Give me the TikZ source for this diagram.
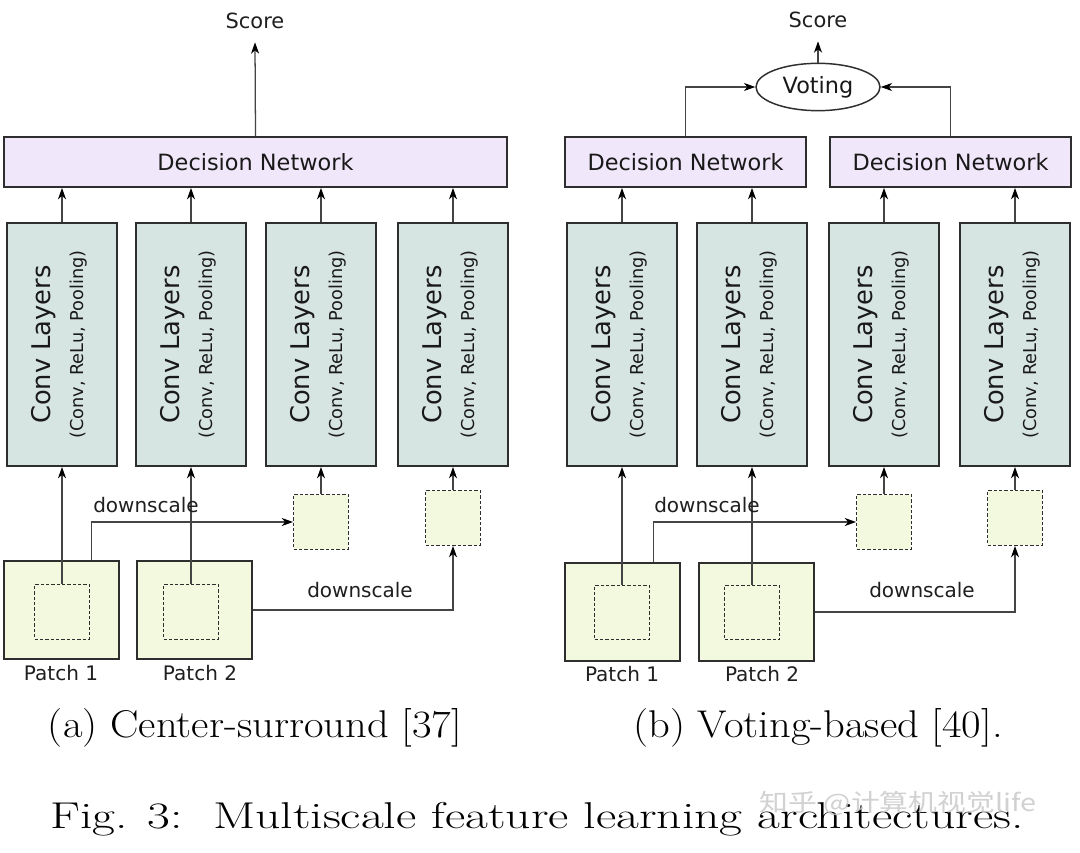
\documentclass[tikz,border=0pt]{standalone}
\usepackage{fontspec}
\newfontfamily\dv{DejaVu Sans}
\newfontfamily\cjk{Noto Sans CJK SC}
\usetikzlibrary{arrows.meta,shapes.geometric}
\definecolor{dnfill}{HTML}{F1E7FA}
\definecolor{convfill}{HTML}{D7E5E2}
\definecolor{patchfill}{HTML}{F2F9DE}
\definecolor{edgec}{HTML}{2E2E2E}
\definecolor{linec}{HTML}{444444}
\begin{document}
\begin{tikzpicture}[x=0.75pt,y=-0.75pt,
  dnbox/.style={draw=edgec, line width=1.4pt, fill=dnfill, inner sep=0pt, minimum height=37.5pt,
     font=\dv\fontsize{16.8}{20}\selectfont, text=black!90},
  convbox/.style={draw=edgec, line width=1.4pt, fill=convfill, inner sep=0pt, minimum width=82.5pt, minimum height=182.25pt},
  convtext/.style={rotate=90, align=center, inner sep=0pt, font=\dv\fontsize{19.3}{24}\selectfont, text=black!90},
  patchbox/.style={draw=edgec, line width=1.4pt, fill=patchfill, inner sep=0pt, minimum width=86.25pt, minimum height=73.5pt},
  innerbox/.style={draw=edgec, line width=0.9pt, dash pattern=on 2.5pt off 1.5pt, inner sep=0pt, minimum size=41pt},
  smallbox/.style={draw=edgec, line width=0.9pt, dash pattern=on 2.5pt off 1.5pt, fill=patchfill, inner sep=0pt, minimum size=41pt},
  lbl/.style={inner sep=0pt, font=\dv\fontsize{15}{18}\selectfont, text=black!88},
  arr/.style={draw=linec, line width=0.95pt, -{Stealth[length=8.5pt,width=6pt,inset=2.5pt,color=black]}},
  capt/.style={inner sep=0pt, anchor=base, font=\fontsize{29}{34}\selectfont, xscale=1.1},
]
\useasboundingbox[fill=white] (0,0) rectangle (1080,852);

% ---------- Left panel ----------
\node[dnbox, minimum width=377.25pt] (dnL) at (255.5,162) {Decision Network};
\node[lbl, font=\dv\fontsize{15.7}{18}\selectfont, anchor=base] (scoreL) at (255,29) {Score};
\draw[arr] (dnL.north) -- ([yshift=-10pt]scoreL.base);

\foreach \i/\x in {1/62,2/191,3/321,4/453}{
  \node[convbox] (cL\i) at (\x,344.5) {};
  \node[convtext] (tL\i) at (\x-3,344.5) {Conv Layers\\[1pt]{\fontsize{13.3}{16}\selectfont (Conv, ReLu, Pooling)}};
  \draw[arr] (cL\i.north) -- (dnL.south -| cL\i.north);
}

\node[patchbox] (pL1) at (61.5,610) {};
\node[patchbox] (pL2) at (194.5,610) {};
\node[innerbox] (iL1) at (62,612) {};
\node[innerbox] (iL2) at (191,612) {};
\node[smallbox] (sL3) at (321,522) {};
\node[smallbox] (sL4) at (453,518) {};
\node[lbl, anchor=north] (plL1) at (61,665) {Patch 1};
\node[lbl, anchor=north] (plL2) at (200,665) {Patch 2};

\draw[arr] (iL1.north) -- (cL1.south);
\draw[arr] (iL2.north) -- (cL2.south);
\draw[arr] (sL3.north) -- (cL3.south);
\draw[arr] (sL4.north) -- (cL4.south);
\draw[arr] ([xshift=22.5pt]pL1.north) |- (sL3.west);
\draw[arr] (pL2.east) -| (sL4.south);
\node[lbl, anchor=base] (dsL1) at (146,512) {downscale};
\node[lbl, anchor=base] (dsL2) at (360,597) {downscale};

% ---------- Right panel ----------
\node[dnbox, minimum width=180.75pt] (dnR1) at (685.5,162) {Decision Network};
\node[dnbox, minimum width=180.75pt] (dnR2) at (950.5,162) {Decision Network};
\node[draw=edgec, line width=1.1pt, ellipse, fill=white, inner sep=0pt, minimum width=93pt, minimum height=35.5pt,
      font=\dv\fontsize{16.8}{20}\selectfont, text=black!90] (vote) at (818,87) {Voting};
\node[lbl, font=\dv\fontsize{15.7}{18}\selectfont, anchor=base] (scoreR) at (818,28) {Score};
\draw[arr] (vote.north) -- ([yshift=-10pt]scoreR.base);
\draw[arr] (dnR1.north) |- (vote.west);
\draw[arr] (dnR2.north) |- (vote.east);

\foreach \i/\x in {1/622,2/752,3/884,4/1015}{
  \node[convbox] (cR\i) at (\x,344.5) {};
  \node[convtext] (tR\i) at (\x-3,344.5) {Conv Layers\\[1pt]{\fontsize{13.3}{16}\selectfont (Conv, ReLu, Pooling)}};
}
\draw[arr] (cR1.north) -- (dnR1.south -| cR1.north);
\draw[arr] (cR2.north) -- (dnR1.south -| cR2.north);
\draw[arr] (cR3.north) -- (dnR2.south -| cR3.north);
\draw[arr] (cR4.north) -- (dnR2.south -| cR4.north);

\node[patchbox] (pR1) at (622.5,612) {};
\node[patchbox] (pR2) at (756.5,612) {};
\node[innerbox] (iR1) at (622,612.5) {};
\node[innerbox] (iR2) at (752,612.5) {};
\node[smallbox] (sR3) at (884,522) {};
\node[smallbox] (sR4) at (1015,518) {};
\node[lbl, anchor=north] (plR1) at (622,666) {Patch 1};
\node[lbl, anchor=north] (plR2) at (762,666) {Patch 2};

\draw[arr] (iR1.north) -- (cR1.south);
\draw[arr] (iR2.north) -- (cR2.south);
\draw[arr] (sR3.north) -- (cR3.south);
\draw[arr] (sR4.north) -- (cR4.south);
\draw[arr] ([xshift=23pt]pR1.north) |- (sR3.west);
\draw[arr] (pR2.east) -| (sR4.south);
\node[lbl, anchor=base] (dsR1) at (707,512) {downscale};
\node[lbl, anchor=base] (dsR2) at (922,597) {downscale};

% ---------- Captions ----------
\node[capt] (capA) at (255,737) {(a) Center-surround [37]};
\node[capt] (capB) at (818,737) {(b) Voting-based [40].};
\node[inner sep=0pt, anchor=base, font=\fontsize{28}{33}\selectfont, xscale=1.33] (fig) at (537,828)
  {Fig. 3:\ \ Multiscale feature learning architectures.};
\node[inner sep=0pt, text=gray!45, opacity=0.8, font=\cjk\fontsize{18}{22}\selectfont, xscale=1.2] (wm) at (898,803)
  {知乎 @计算机视觉life};
\end{tikzpicture}
\end{document}
